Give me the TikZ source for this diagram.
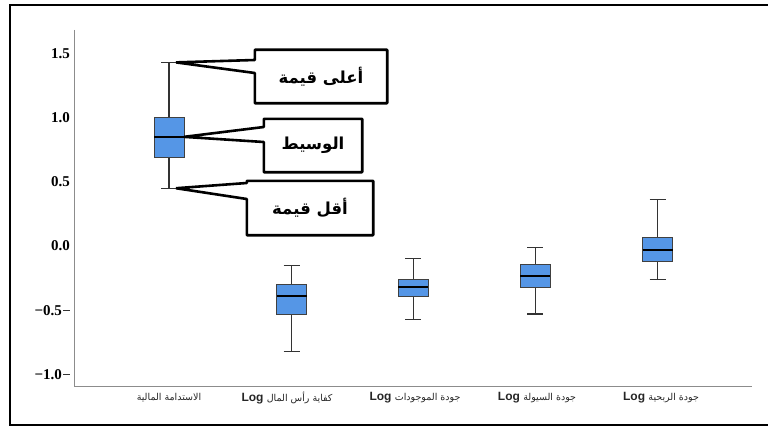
\documentclass[tikz,border=0pt]{standalone}
\usepackage{fontspec}
\setmainfont{Liberation Serif}
\setsansfont{Liberation Sans}
\newfontfamily\arabicfont[Script=Arabic]{DejaVu Sans}
\TeXXeTstate=1
\definecolor{boxblue}{HTML}{5596E6}
\definecolor{axisgray}{HTML}{8C8C8C}
\begin{document}
\begin{tikzpicture}[x=1pt,y=-1pt,
    whisk/.style={draw=black!80,line width=1.3pt},
    bx/.style={draw=black!75,fill=boxblue,line width=0.9pt},
    med/.style={draw=black,line width=2pt},
    callout/.style={draw=black,line width=2.6pt,line join=bevel},
    ticklbl/.style={anchor=east,inner sep=0pt,font=\fontsize{15}{16}\selectfont\bfseries},
    catlbl/.style={inner sep=0pt,text=black!85}]
    \useasboundingbox (0,0) rectangle (768,428);
    \draw[line width=2pt] (768,5) -- (10,5) -- (10,425) -- (768,425);
    \draw[axisgray,line width=1pt] (74,30) -- (74,386) -- (752,386);
    \begin{scope}[shift={(0,246)},y=128.4pt]
        \foreach \v in {1.5,1.0,0.5,0.0}
            \node[ticklbl] (t\v) at (70,\v) {\v};
        \foreach \v/\t in {-0.5/0.5,-1.0/1.0} {
            \node[ticklbl] (t\v) at (62,\v) {−\t};
            \draw[black!80,line width=1pt] (63,\v) -- (70,\v);
        }
        \foreach \x/\hi/\qt/\md/\qb/\lo in {169/1.43/1.00/0.85/0.69/0.45,
            291.5/-0.15/-0.30/-0.39/-0.53/-0.82, 413.3/-0.10/-0.26/-0.32/-0.39/-0.57,
            535.3/-0.01/-0.14/-0.23/-0.32/-0.53, 657.7/0.36/0.07/-0.03/-0.12/-0.26} {
            \draw[whisk] (\x,\lo) -- (\x,\qb) (\x,\qt) -- (\x,\hi);
            \draw[whisk] ({\x-8},\hi) -- ({\x+8},\hi) ({\x-8},\lo) -- ({\x+8},\lo);
            \draw[bx] ({\x-15},\qb) rectangle ({\x+15},\qt);
            \draw[med] ({\x-15},\md) -- ({\x+15},\md);
        }
        \coordinate (hi) at (176,1.43);
        \coordinate (median) at (184,0.85);
        \coordinate (lo) at (176,0.45);
    \end{scope}
    \node[minimum width=132pt,minimum height=53pt,inner sep=0pt] (lblhi) at (321,76.5)
        {\fontsize{16.5}{17}\selectfont\arabicfont\bfseries\beginR أعلى قيمة\endR};
    \node[minimum width=98pt,minimum height=53pt,inner sep=0pt] (lblmed) at (313,145.5)
        {\fontsize{16.5}{17}\selectfont\arabicfont\bfseries\beginR الوسيط\endR};
    \node[minimum width=126pt,minimum height=54pt,inner sep=0pt] (lbllo) at (310,208)
        {\fontsize{16.5}{17}\selectfont\arabicfont\bfseries\beginR أقل قيمة\endR};
    \draw[callout] (lblhi.north west) -- (lblhi.north east) -- (lblhi.south east) -- (lblhi.south west)
        -- ([yshift=3.5pt]lblhi.west) -- (hi) -- ([yshift=16.5pt]lblhi.west) -- cycle;
    \draw[callout] (lblmed.north west) -- (lblmed.north east) -- (lblmed.south east) -- (lblmed.south west)
        -- ([yshift=3.5pt]lblmed.west) -- (median) -- ([yshift=18.5pt]lblmed.west) -- cycle;
    \draw[callout] (lbllo.north west) -- (lbllo.north east) -- (lbllo.south east) -- (lbllo.south west)
        -- ([yshift=9pt]lbllo.west) -- (lo) -- ([yshift=25pt]lbllo.west) -- cycle;
    \node[catlbl] (c1) at (169,398) {\fontsize{9.5}{10}\selectfont\arabicfont\beginR الاستدامة المالية\endR};
    \node[catlbl] (c2) at (287,398) {\fontsize{12}{13}\selectfont\sffamily\bfseries Log \mdseries\fontsize{9.5}{10}\selectfont\arabicfont\beginR كفاية رأس المال\endR};
    \node[catlbl] (c3) at (415,398) {\fontsize{12}{13}\selectfont\sffamily\bfseries Log \mdseries\fontsize{9.5}{10}\selectfont\arabicfont\beginR جودة الموجودات\endR};
    \node[catlbl] (c4) at (537,398) {\fontsize{12}{13}\selectfont\sffamily\bfseries Log \mdseries\fontsize{9.5}{10}\selectfont\arabicfont\beginR جودة السيولة\endR};
    \node[catlbl] (c5) at (661,398) {\fontsize{12}{13}\selectfont\sffamily\bfseries Log \mdseries\fontsize{9.5}{10}\selectfont\arabicfont\beginR جودة الربحية\endR};
\end{tikzpicture}
\end{document}
